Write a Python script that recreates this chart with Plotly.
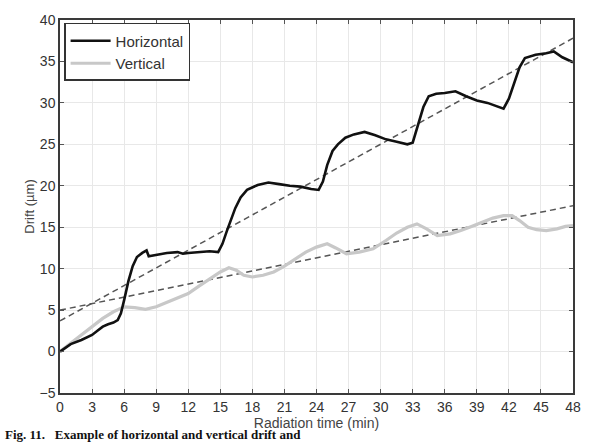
import plotly.graph_objects as go

# Horizontal drift (black)
h_t = [0, 0.5, 1, 2, 3, 3.5, 4, 4.5, 5, 5.4, 5.7, 6, 6.4, 6.8, 7.2, 7.7, 8.1, 8.3, 9, 10, 11, 11.5,
       12, 13, 14, 14.8, 15.2, 15.6, 16, 16.4, 16.9, 17.5, 18.5, 19.5, 20.5, 21.5, 22.5, 23.5, 24.2,
       24.6, 25, 25.5, 26, 26.7, 27.5, 28.5, 29.5, 30.5, 31.5, 32.5, 33, 33.5, 34, 34.5, 35.2, 36,
       37, 38, 39, 40, 41, 41.5, 42, 42.5, 43, 43.5, 44.5, 45.5, 46.2, 47, 48]
h_v = [0, 0.5, 0.9, 1.4, 2.0, 2.5, 3.0, 3.3, 3.5, 3.8, 4.6, 6.2, 8.5, 10.3, 11.4, 11.9, 12.2, 11.5, 11.7,
       11.9, 12.0, 11.8, 11.9, 12.0, 12.1, 12.0, 13.0, 14.5, 15.8, 17.3, 18.6, 19.5, 20.1, 20.4, 20.2,
       20.0, 19.9, 19.6, 19.5, 20.5, 22.5, 24.2, 25.0, 25.8, 26.2, 26.5, 26.1, 25.6, 25.3, 25.0, 25.2,
       27.5, 29.5, 30.8, 31.1, 31.2, 31.4, 30.8, 30.3, 30.0, 29.5, 29.3, 30.5, 32.5, 34.3, 35.4, 35.8,
       36.0, 36.2, 35.5, 34.9]

# Vertical drift (light grey)
v_t = [0, 1, 2, 3, 4, 5, 6, 7, 8, 9, 10, 11, 12, 13, 14, 15, 15.8, 16.5, 17.2, 18, 19, 20, 21, 22, 23,
       24, 25, 25.8, 26.8, 28, 29.3, 30.5, 31.5, 32.5, 33.4, 34.3, 35.3, 36.5, 37.5, 38.5, 39.5, 40.5,
       41.5, 42.3, 43, 43.8, 44.6, 45.5, 46.5, 47.3, 48]
v_v = [0, 1.0, 2.0, 3.0, 4.0, 4.8, 5.4, 5.3, 5.1, 5.4, 5.9, 6.4, 7.0, 7.9, 8.8, 9.6, 10.1, 9.8, 9.2, 9.0,
       9.2, 9.6, 10.3, 11.2, 12.0, 12.6, 13.0, 12.5, 11.8, 12.0, 12.4, 13.4, 14.3, 15.0, 15.4, 14.8,
       14.0, 14.2, 14.6, 15.1, 15.6, 16.1, 16.4, 16.4, 15.8, 15.0, 14.7, 14.6, 14.8, 15.1, 15.2]

# Linear fits (dashed)
hfit_t = [0, 48]
hfit_v = [3.7, 37.8]
vfit_t = [0, 48]
vfit_v = [5.0, 17.6]

x_ticks = list(range(0, 49, 3))
y_ticks = list(range(-5, 41, 5))

FONT = "Liberation Sans, Arial"

fig = go.Figure()
fig.add_trace(go.Scatter(x=hfit_t, y=hfit_v, mode="lines", showlegend=False,
                         line=dict(color="#555555", width=1.5, dash="6px,4px")))
fig.add_trace(go.Scatter(x=vfit_t, y=vfit_v, mode="lines", showlegend=False,
                         line=dict(color="#555555", width=1.5, dash="6px,4px")))
fig.add_trace(go.Scatter(x=v_t, y=v_v, mode="lines", name="Vertical",
                         line=dict(color="#c8c8c8", width=3.2)))
fig.add_trace(go.Scatter(x=h_t, y=h_v, mode="lines", name="Horizontal",
                         line=dict(color="#111111", width=2.6)))

axis_common = dict(showline=True, linecolor="#3a3a3a", linewidth=1.5, mirror="ticks",
                   ticks="inside", ticklen=4, tickcolor="#555555",
                   showgrid=True, gridcolor="#e8e8e8", gridwidth=1, zeroline=False,
                   tickfont=dict(family=FONT, size=14, color="#333333"))

fig.update_xaxes(range=[0, 48], tickvals=x_ticks, title=dict(text="Radiation time (min)", standoff=3,
                 font=dict(family=FONT, size=14, color="#444444")), **axis_common)
fig.update_yaxes(range=[-5, 40], tickvals=y_ticks, title=dict(text="Drift (µm)", standoff=2,
                 font=dict(family=FONT, size=13, color="#444444")), **axis_common)

fig.update_layout(
    width=593, height=445,
    margin=dict(l=60, r=16, t=15, b=52),
    plot_bgcolor="white", paper_bgcolor="white",
    legend=dict(x=0.008, y=0.992, xanchor="left", yanchor="top",
                bgcolor="white", bordercolor="#333333", borderwidth=1.5,
                font=dict(family=FONT, size=15, color="#333333"),
                traceorder="reversed", tracegroupgap=0, itemwidth=40),
    annotations=[dict(text="<b>Fig. 11.   Example of horizontal and vertical drift and</b>",
                      xref="paper", yref="paper", x=-0.112, y=-0.1376, xanchor="left", yanchor="bottom",
                      showarrow=False,
                      font=dict(family="Liberation Serif, Times New Roman", size=13, color="#111111"))],
)

fig.write_html("out.html")
